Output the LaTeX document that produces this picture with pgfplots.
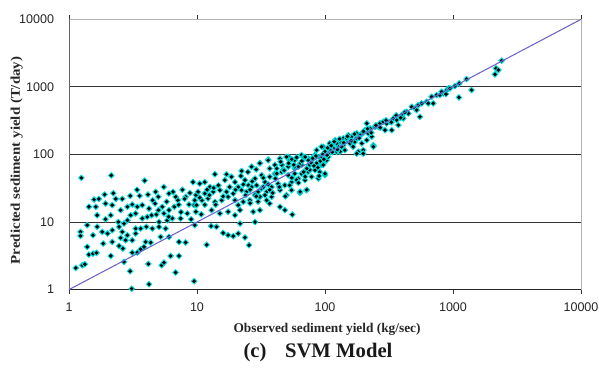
\documentclass[border=0pt]{standalone}
\usepackage{fontspec}
\setmainfont{Liberation Serif}
\newfontfamily\arial{Liberation Sans}
\usepackage{pgfplots}
\pgfplotsset{compat=1.18}
\definecolor{mk}{RGB}{0,225,225}
\definecolor{ln}{RGB}{110,100,200}
\pgfplotstableread{
x y
1.25 45
2.14 49
3.9 41
9.3 39
5.5 33
3.4 30
7.7 30
1.57 21.5
1.71 22
1.9 25.5
2.22 26.7
2.32 22
2.61 22
3.01 24.4
3.56 24.4
4.14 25.5
4.75 28
4.99 23.6
6.04 26.4
6.81 23.6
7.1 21
8.15 23.6
9.8 25
1.43 16.8
1.62 16.8
1.66 12.6
1.93 18.8
2.18 17.8
2.53 15
2.86 16.8
3.12 18.2
3.42 16.8
3.74 17.8
4.22 15.8
4.7 18.8
5.36 16.8
6.04 15
6.65 16.8
8.66 18.2
9.5 17.8
8.4 13.4
9.8 14.2
1.93 11
2.12 12.6
2.43 10
2.69 9.5
2.86 10.6
3.03 12.6
3.32 13.4
3.74 11.3
4.09 11.9
4.42 12.6
4.81 12.9
5.05 10
5.52 13.4
5.86 10.6
6.41 11.3
7.45 11.3
1.39 9
1.66 8.5
1.82 7.15
2.0 6.76
2.18 7.57
2.46 8.5
2.61 7.15
2.86 6.38
3.32 8
3.63 8
4.02 8.5
4.48 8
5.05 8.5
5.69 8
1.23 7.15
1.23 6.24
1.54 6.38
1.85 4.8
2.18 5.08
2.53 5.83
2.77 5.38
3.12 5.38
3.32 6.76
3.97 5.08
5.2 6.03
6.04 6.03
1.39 4.29
1.43 3.3
1.54 3.41
1.64 3.5
2.12 3.15
2.46 4.43
2.64 4.05
3.12 3.53
3.42 3.53
3.63 3.96
3.85 4.29
4.35 4.97
2.69 2.57
4.17 2.4
5.3 2.29
5.52 2.51
6.22 3.15
7.23 3.15
1.13 2.09
1.27 2.29
1.33 2.37
3.0 1.87
6.81 1.79
4.22 1.2
9.5 1.33
3.09 1.03
8.15 4.97
7.23 5.08
13.8 51
17 51
22.3 57
26.7 66
31 74
36 84
40.6 70
44.5 87
52 92
58 82
65.6 98
74 87
83.5 98
91 92
46 70
51.6 66
58 62
65.6 70
76 70
86 74
94 70
10.5 37
11.5 39
12.6 33
14.7 35
16.5 41.7
18.6 46.7
19.8 39
21 33
23.7 41.7
25.2 35
28.4 44
32 49.4
34 39
37 46.7
40.6 52
45.8 55
51.6 49.4
58 52
65.6 52
74 55
83.5 58.6
91 55
10.2 28
11.5 26.4
13.4 28
15.1 29.6
17 28
19.2 26.4
22.3 29.6
24.4 28
26.7 33
29.2 35
32 31.4
35 28
38.3 33
43 37
48.6 35
54.8 39
61.8 44
69.7 41.7
78.5 46.7
88.7 44
9.6 21
10.9 21
12.2 22.3
13.8 19.9
15.6 21
17.5 23.6
19.8 21
21 17.8
23 19.9
25.9 21
28.4 25
31 23.6
35 21
38.3 23.6
44.5 29.6
50 25
54.8 29.6
63.7 28
71.8 29.6
9.9 17.8
13 15
15.1 13.4
17.5 14.2
19.8 12.6
21.7 15
27.5 14.2
31 15
37 18.8
44.5 16.8
48.6 15
63.7 27
55.5 12.9
9.6 9
12.9 8.7
14.2 8.5
16 6.9
17.5 6.4
19.2 6.17
21 6.76
23.7 5.9
25.5 4.54
28.4 10
11.9 4.6
21.7 9.5
100 49.4
97 73.6
103 82
94 92
100 110
97 130
106 103
109 146
120 163
116 123
127 130
131 110
139 137
143 116
148 163
157 146
161 183
166 130
171 154
177 173
182 110
188 193
194 146
199 116
205 229
212 163
218 205
225 243
232 183
239 137
246 257
261 257
269 288
286 305
294 229
303 288
322 305
332 229
342 341
363 323
374 272
397 383
409 341
435 429
448 405
476 508
505 480
520 454
536 538
552 361
569 570
622 603
641 570
681 715
701 570
745 757
791 757
841 801
893 898
920 950
131 154
152 193
177 205
197 205
139 173
123 146
212 288
815 848
881 783
946 950
1035 1029
1119 1127
1277 1306
1112 699
1397 898
2128 1531
2167 1879
2262 1775
2400 2443
31 74
36 82
37 62
42 52
46 70
47 59
50 92
53 82
58 66
64 74
68 92
74 82
76 59
81 92
86 116
94 130
100 52
106 92
116 146
123 110
135 130
148 173
157 146
177 103
188 193
199 103
239 130
26 30
29 24
33 33
37 30
44 33
49 24
53 35
64 28
72 30
60 42
70 47
97 70
42 62
45 78
48 58
52 74
55 85
57 70
60 90
62 66
66 80
70 92
72 62
78 76
80 88
85 95
88 64
92 80
96 100
55 45
62 38
68 55
82 68
90 48
98 85
104 98
110 120
114 108
125 118
20 30
23 36
24 25
27 40
30 28
33 45
36 36
39 27
41 44
22 48
25 55
29 60
18 33
16 24
14 18
12 30
26 19
30 20
34 25
5.8 20
6.5 28
7.2 18
8 22
8.8 27
10.5 23
11.5 18
12.5 25
13.5 32
6 12
7.5 14
9 11
10.8 13
4.5 21
5 15
105 125
112 135
118 155
130 170
140 150
150 185
160 160
170 200
185 175
200 220
215 240
230 210
250 270
270 250
300 320
330 300
360 380
390 350
420 420
}\svmdata
\begin{document}
\begin{tikzpicture}
\begin{axis}[
  xmode=log, ymode=log,
  scale only axis, width=384pt, height=202.7pt,
  xmin=1, xmax=10000, ymin=1, ymax=10000,
  xtick={1,10,100,1000,10000}, xticklabels={1,10,100,1000,10000},
  ytick={1,10,100,1000}, yticklabels={1,10,100,1000},
  extra y ticks={10000}, extra y tick labels={10000},
  extra y tick style={ymajorgrids=false},
  xminorticks=false, yminorticks=false,
  ymajorgrids, major grid style={black!80, line width=0.8pt},
  axis line style={draw=none},
  tick align=outside, major tick length=3pt,
  xtick style={black!80, line width=0.6pt}, ytick style={draw=none},
  ticklabel style={font=\arial\fontsize{9.4}{11}\selectfont, text=black!85},
  yticklabel style={anchor=east, inner sep=0pt, xshift=-8pt},
  xticklabel style={anchor=north, inner sep=0pt, yshift=-7pt},
  xlabel={Observed sediment yield (kg/sec)},
  ylabel={\scalebox{1.12}[1]{Predicted sediment yield (T/day)}},
  xlabel style={at={(axis description cs:0.504,-0.158)}, anchor=base, font=\bfseries\fontsize{10}{12}\selectfont, text=black!85},
  ylabel style={at={(axis description cs:-0.0957,0.478)}, anchor=base, font=\bfseries\fontsize{10}{12}\selectfont, text=black!85},
  clip mode=individual,
]
\draw[gray!60, line width=0.6pt] (rel axis cs:0,1) -- (rel axis cs:1,1) -- (rel axis cs:1,0);
\draw[gray!80!black, line width=0.7pt] (rel axis cs:0,0) -- (rel axis cs:0,1);
\draw[black!85, line width=0.8pt] (rel axis cs:0,0) -- (rel axis cs:1,0);
\addplot[only marks, mark=square*, mark size=1.5pt,
  mark options={rotate=45, draw=mk, fill=black, line width=0.65pt}]
  table[x=x, y=y] {\svmdata};
\addplot[ln, line width=0.8pt] coordinates {(1,1) (10000,10000)};
\end{axis}
\node[anchor=base, font=\bfseries\fontsize{15.5}{18}\selectfont, text=black!90] at (186.75pt,-50.8pt) {(c)\hspace{0.9em}SVM Model};
\pgfresetboundingbox
\path[use as bounding box] (-51.75pt,-62pt) rectangle (397.5pt,217.2pt);
\end{tikzpicture}
\end{document}
